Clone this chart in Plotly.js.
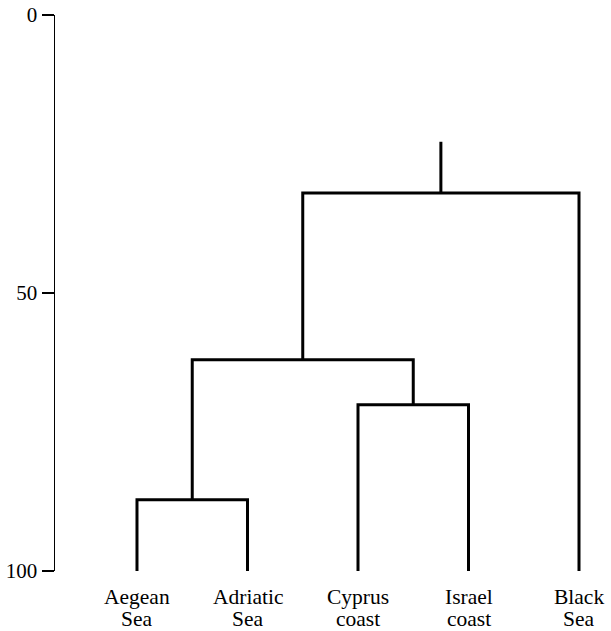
<!DOCTYPE html>
<html>
<head>
<meta charset="utf-8">
<script src="https://cdn.plot.ly/plotly-3.0.1.min.js"></script>
<style>html,body{margin:0;padding:0;background:#fff;}#chart{width:611px;height:631px;}</style>
</head>
<body>
<div id="chart"></div>
<script>
// Leaves (left to right), two-line labels
const labelLine1 = ["Aegean", "Adriatic", "Cyprus", "Israel", "Black"];
const labelLine2 = ["Sea", "Sea", "coast", "coast", "Sea"];
const leafLevel = 100;
// Merges: indices refer to leaves (0..4) or previous merges (5..)
const mergeLeft   = [0, 2, 5, 7];
const mergeRight  = [1, 3, 6, 4];
const mergeLevel  = [87.2, 70.1, 62.0, 32.0];
const rootLevel = 22.8;
const yTicks = [0, 50, 100];

const leafPos = labelLine1.map((_, i) => i + 1);
const nodeX = leafPos.slice();
const nodeY = leafPos.map(() => leafLevel);
const xs = [], ys = [];
for (let k = 0; k < mergeLeft.length; k++) {
  const a = mergeLeft[k], b = mergeRight[k], h = mergeLevel[k];
  xs.push(nodeX[a], nodeX[a], nodeX[b], nodeX[b], null);
  ys.push(nodeY[a], h, h, nodeY[b], null);
  nodeX.push((nodeX[a] + nodeX[b]) / 2);
  nodeY.push(h);
}
const root = nodeX.length - 1;
xs.push(nodeX[root], nodeX[root], null);
ys.push(nodeY[root], rootLevel, null);

const trace = {
  x: xs, y: ys, mode: "lines", type: "scatter",
  line: {color: "#000", width: 3}, hoverinfo: "skip", connectgaps: false
};

const serif = "Liberation Serif, Times New Roman, serif";
const annotations = [];
leafPos.forEach((x, i) => {
  annotations.push({x: x, xref: "x", y: 0, yref: "paper", yanchor: "top", yshift: -13, borderpad: 0,
    text: labelLine1[i], showarrow: false, font: {family: serif, size: 21.5, color: "#000"}});
  annotations.push({x: x, xref: "x", y: 0, yref: "paper", yanchor: "top", yshift: -35, borderpad: 0,
    text: labelLine2[i], showarrow: false, font: {family: serif, size: 21.5, color: "#000"}});
});

const layout = {
  width: 611, height: 631,
  margin: {l: 55, r: 11, t: 15, b: 60},
  paper_bgcolor: "#fff", plot_bgcolor: "#fff",
  showlegend: false,
  font: {family: serif, size: 20, color: "#000"},
  annotations: annotations,
  xaxis: {
    range: [0.258, 5.19], showgrid: false, zeroline: false, showline: false,
    showticklabels: false, ticks: ""
  },
  yaxis: {
    range: [100, 0], showgrid: false, zeroline: false, showline: true,
    linecolor: "#000", linewidth: 1.5,
    tickmode: "array", tickvals: yTicks, ticktext: yTicks.map(String),
    ticks: "outside", ticklen: 12, tickwidth: 1.5, tickcolor: "#000",
    tickfont: {size: 21}
  }
};

Plotly.newPlot("chart", [trace], layout, {staticPlot: true, displayModeBar: false});
</script>
</body>
</html>
